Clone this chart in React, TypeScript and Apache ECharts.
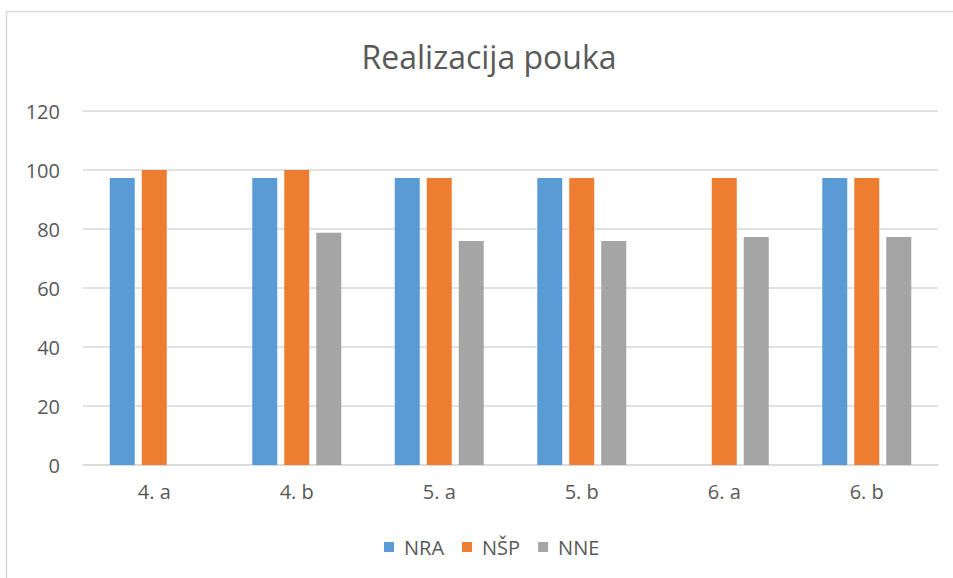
import React, { useEffect, useRef } from "react";
import * as echarts from "echarts";

const categories = ["4. a", "4. b", "5. a", "5. b", "6. a", "6. b"];
const nraValues = [97.3, 97.3, 97.3, 97.3, null, 97.3];
const nspValues = [100, 100, 97.3, 97.3, 97.3, 97.3];
const nneValues = [null, 78.7, 75.9, 75.9, 77.3, 77.3];
const seriesNames = ["NRA", "NŠP", "NNE"];
const seriesColors = ["#5B9BD5", "#ED7D31", "#A5A5A5"];
const yTicks = { min: 0, max: 120, interval: 20 };

const FONT = "'Open Sans', 'Liberation Sans', sans-serif";

export default function App() {
  const ref = useRef<HTMLDivElement>(null);
  useEffect(() => {
    if (!ref.current) return;
    const chart = echarts.init(ref.current, undefined, { renderer: "svg" });
    const data = [nraValues, nspValues, nneValues];
    chart.setOption({
      animation: false,
      backgroundColor: "#ffffff",
      graphic: [
        {
          type: "rect",
          shape: { x: 6.5, y: 11.5, width: 1000, height: 620 },
          style: { fill: "none", stroke: "#D9D9D9", lineWidth: 1.5 },
          silent: true,
          z: -1,
        },
      ],
      title: {
        text: "Realizacija pouka",
        left: 484,
        top: 35,
        textAlign: "center",
        textStyle: { fontFamily: FONT, fontSize: 32, fontWeight: "normal", color: "#595959" },
      },
      legend: {
        data: seriesNames,
        left: 379,
        top: 532,
        itemWidth: 10,
        itemHeight: 10,
        itemGap: 18,
        icon: "rect",
        textStyle: { fontFamily: FONT, fontSize: 20, color: "#595959", padding: [0, 0, 0, 5] },
      },
      grid: { left: 83, right: 15, top: 111, bottom: 113, containLabel: false },
      xAxis: {
        type: "category",
        data: categories,
        axisLine: { lineStyle: { color: "#D9D9D9", width: 1.5 } },
        axisTick: { show: false },
        axisLabel: { fontFamily: FONT, fontSize: 20, color: "#595959", margin: 16 },
      },
      yAxis: {
        type: "value",
        min: yTicks.min,
        max: yTicks.max,
        interval: yTicks.interval,
        axisLine: { show: false },
        axisTick: { show: false },
        splitLine: { lineStyle: { color: "#D9D9D9", width: 1.5 } },
        axisLabel: { fontFamily: FONT, fontSize: 20, color: "#595959", margin: 23 },
      },
      series: seriesNames.map((name, i) => ({
        name,
        type: "bar",
        data: data[i],
        barWidth: 25,
        barGap: "28%",
        itemStyle: { color: seriesColors[i] },
      })),
    });
    return () => chart.dispose();
  }, []);
  return (
    <div
      ref={ref}
      style={{ position: "fixed", left: 0, top: 0, width: 953, height: 578 }}
    />
  );
}
